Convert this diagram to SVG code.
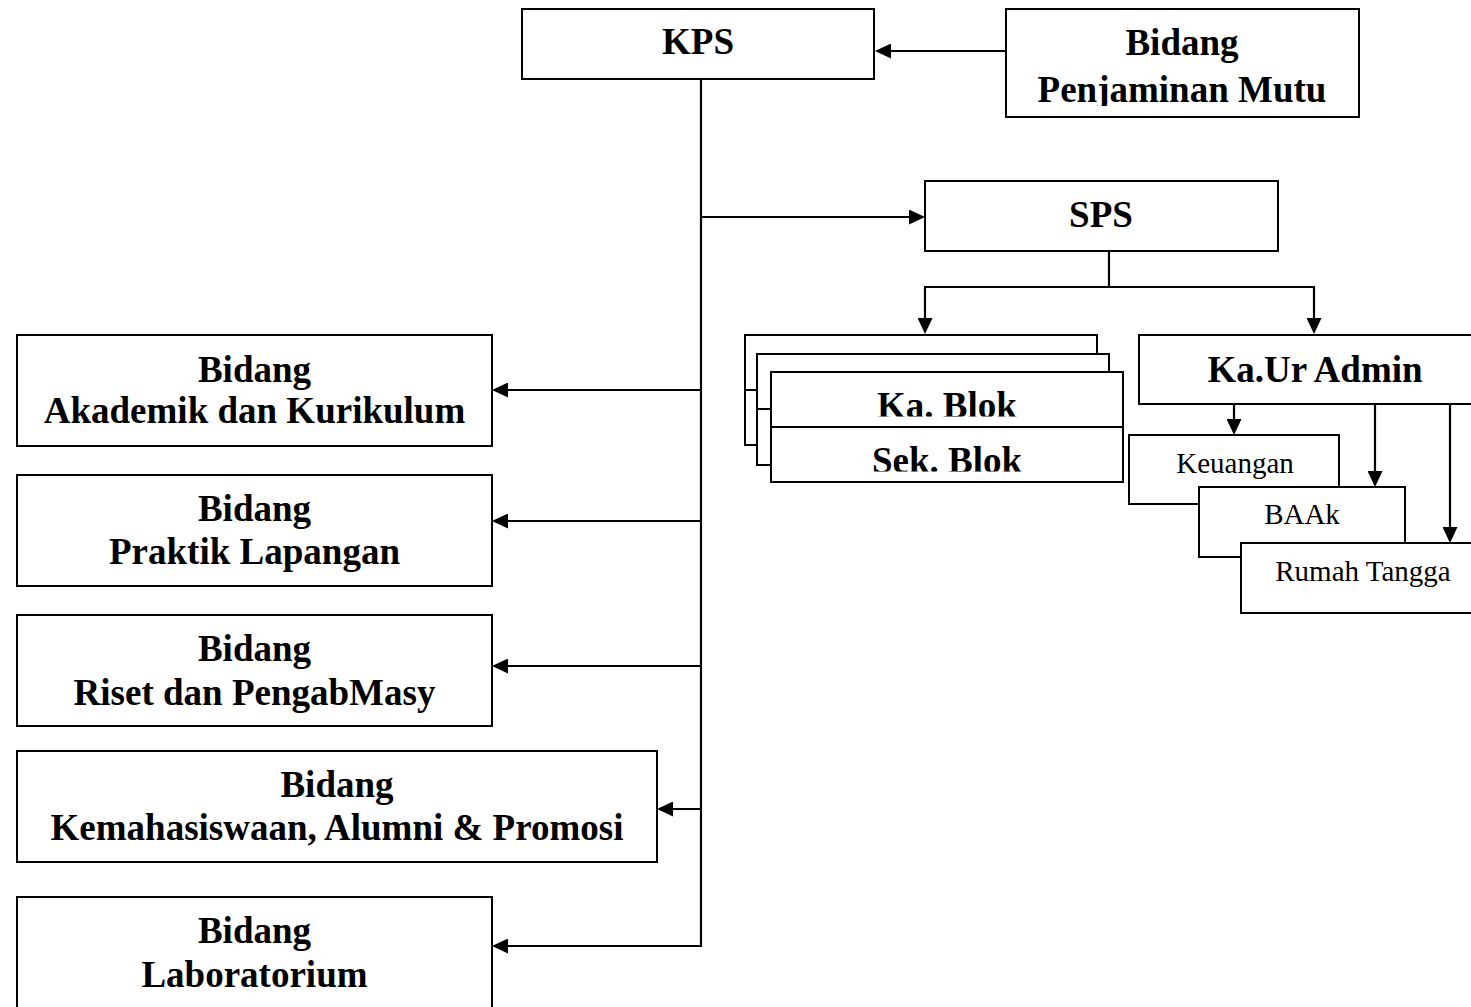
<svg xmlns="http://www.w3.org/2000/svg" width="1471" height="1007" viewBox="0 0 1471 1007">
<style>
.box{fill:#fff;stroke:#000;stroke-width:2}
.b{font-family:"Liberation Serif","Times New Roman",serif;font-weight:bold;font-size:37px;text-anchor:middle;fill:#000}
.r{font-family:"Liberation Serif","Times New Roman",serif;font-size:29px;text-anchor:middle;fill:#000}
.c{fill:none;stroke:#000;stroke-width:2.2}
.a{marker-end:url(#arr)}
</style>
<defs>
<marker id="arr" markerUnits="userSpaceOnUse" markerWidth="16" markerHeight="15" refX="12" refY="7.5" orient="auto">
<path d="M0,0 L16,7.5 L0,15 Z" fill="#000"/>
</marker>
<clipPath id="clipPM"><rect x="1006" y="9" width="353" height="97"/></clipPath>
<clipPath id="clipKa"><rect x="771" y="372" width="352" height="44.5"/></clipPath>
<clipPath id="clipSek"><rect x="771" y="427" width="352" height="44.5"/></clipPath>
</defs>
<rect width="1471" height="1007" fill="#fff"/>

<g id="connectors">
<path class="c a" d="M1006,51 H879"/>
<path class="c" d="M701,79 V947"/>
<path class="c a" d="M701,217 H921"/>
<path class="c a" d="M701,390 H496"/>
<path class="c a" d="M701,521 H496"/>
<path class="c a" d="M701,666 H496"/>
<path class="c a" d="M701,809 H661"/>
<path class="c a" d="M702,946 H496"/>
<path class="c" d="M1109,251 V287"/>
<path class="c" d="M924,287 H1315"/>
<path class="c a" d="M925,287 V330"/>
<path class="c a" d="M1314,287 V330"/>
<path class="c a" d="M1234,404 V431"/>
<path class="c a" d="M1375,404 V483"/>
<path class="c a" d="M1450,404 V539"/>
</g>

<g id="kps">
<rect class="box" x="522" y="9" width="352" height="70"/>
<text class="b" x="698" y="54">KPS</text>
</g>

<g id="penjaminan-mutu">
<rect class="box" x="1006" y="9" width="353" height="108"/>
<g clip-path="url(#clipPM)">
<text class="b" x="1182" y="55">Bidang</text>
<text class="b" x="1182" y="102">Penjaminan Mutu</text>
</g>
</g>

<g id="sps">
<rect class="box" x="925" y="181" width="353" height="70"/>
<text class="b" x="1101" y="227">SPS</text>
</g>

<g id="blok">
<rect class="box" x="745" y="335" width="352" height="55"/>
<rect class="box" x="745" y="390" width="352" height="55"/>
<rect class="box" x="757" y="354" width="352" height="55"/>
<rect class="box" x="757" y="409" width="352" height="56"/>
<rect class="box" x="771" y="372" width="352" height="55"/>
<rect class="box" x="771" y="427" width="352" height="55"/>
<text class="b" x="947" y="418" clip-path="url(#clipKa)">Ka. Blok</text>
<text class="b" x="947" y="473" clip-path="url(#clipSek)">Sek. Blok</text>
</g>

<g id="kaur-admin">
<rect class="box" x="1139" y="335" width="360" height="69"/>
<text class="b" x="1315" y="382">Ka.Ur Admin</text>
</g>

<g id="keuangan">
<rect class="box" x="1129" y="435" width="210" height="69"/>
<text class="r" x="1235" y="473">Keuangan</text>
</g>

<g id="baak">
<rect class="box" x="1199" y="487" width="206" height="70"/>
<text class="r" x="1302" y="524">BAAk</text>
</g>

<g id="rumah-tangga">
<rect class="box" x="1241" y="543" width="260" height="70"/>
<text class="r" x="1363" y="581">Rumah Tangga</text>
</g>

<g id="akademik">
<rect class="box" x="17" y="335" width="475" height="111"/>
<text class="b" x="254.5" y="382">Bidang</text>
<text class="b" x="254.5" y="423">Akademik dan Kurikulum</text>
</g>

<g id="praktik">
<rect class="box" x="17" y="475" width="475" height="111"/>
<text class="b" x="254.5" y="521">Bidang</text>
<text class="b" x="254.5" y="564">Praktik Lapangan</text>
</g>

<g id="riset">
<rect class="box" x="17" y="615" width="475" height="111"/>
<text class="b" x="254.5" y="661">Bidang</text>
<text class="b" x="254.5" y="705">Riset dan PengabMasy</text>
</g>

<g id="kemahasiswaan">
<rect class="box" x="17" y="751" width="640" height="111"/>
<text class="b" x="337" y="797">Bidang</text>
<text class="b" x="337" y="840">Kemahasiswaan, Alumni &amp; Promosi</text>
</g>

<g id="laboratorium">
<rect class="box" x="17" y="897" width="475" height="130"/>
<text class="b" x="254.5" y="943">Bidang</text>
<text class="b" x="254.5" y="987">Laboratorium</text>
</g>
</svg>
